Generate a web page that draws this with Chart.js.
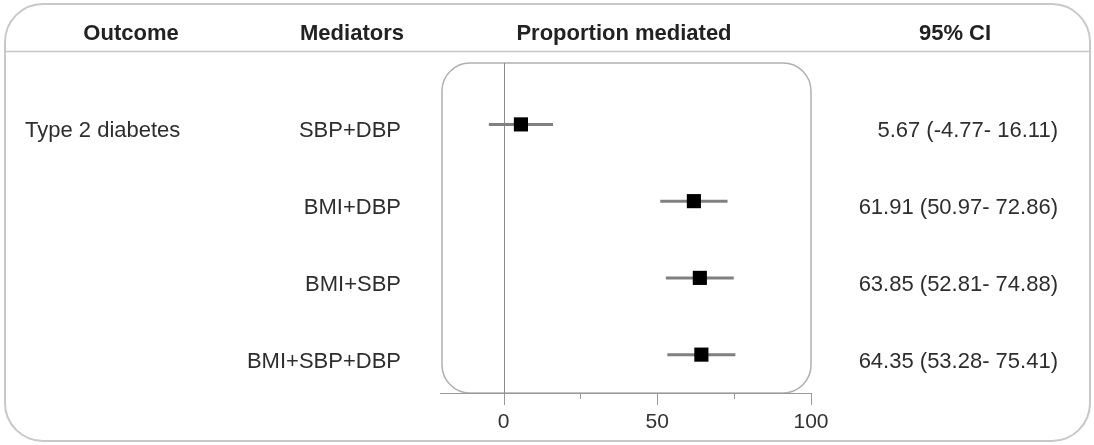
<!DOCTYPE html>
<html>
<head>
<meta charset="utf-8">
<script src="https://cdn.jsdelivr.net/npm/chart.js@4/dist/chart.umd.min.js"></script>
<style>
    html, body { margin: 0; padding: 0; background: #fff; }
    #wrap { width: 1094px; height: 445px; }
</style>
</head>
<body>
<div id="wrap"><canvas id="forestChart"></canvas></div>
<script>
// values
const headers = ['Outcome', 'Mediators', 'Proportion mediated', '95% CI'];
const outcomes = ['Type 2 diabetes', '', '', ''];
const mediators = ['SBP+DBP', 'BMI+DBP', 'BMI+SBP', 'BMI+SBP+DBP'];
const estimate = [5.67, 61.91, 63.85, 64.35];
const lower = [-4.77, 50.97, 52.81, 53.28];
const upper = [16.11, 72.86, 74.88, 75.41];
const majorTicks = [0, 50, 100];
const minorTicks = [25, 75];

const FONT = '"Liberation Sans", Arial, Helvetica, sans-serif';

// CI segments, one per row, split by null gaps
var ciData = [];
mediators.forEach(function (m, i) {
    ciData.push({ x: lower[i], y: i + 1 });
    ciData.push({ x: upper[i], y: i + 1 });
    ciData.push({ x: null, y: null });
});
var pointData = estimate.map(function (v, i) {
    return { x: v, y: i + 1 };
});

function ciLabel(i) {
    return estimate[i].toFixed(2) + ' (' + lower[i].toFixed(2) + '- ' + upper[i].toFixed(2) + ')';
}

const tablePlugin = {
    id: 'tablePlugin',
    beforeDatasetsDraw: function (chart) {
        const ctx = chart.ctx;
        const area = chart.chartArea;
        const xs = chart.scales.x;

        ctx.save();
        // outer frame
        ctx.strokeStyle = '#c8c8c8';
        ctx.lineWidth = 2;
        ctx.beginPath();
        ctx.roundRect(5, 4, 1085, 437, 38);
        ctx.stroke();
        // header rule
        ctx.lineWidth = 1.5;
        ctx.beginPath();
        ctx.moveTo(5, 51.5);
        ctx.lineTo(1090, 51.5);
        ctx.stroke();

        // plot box
        ctx.strokeStyle = '#b0b0b0';
        ctx.lineWidth = 1.5;
        ctx.beginPath();
        ctx.roundRect(area.left, area.top, area.right - area.left, area.bottom - area.top, 28);
        ctx.stroke();

        // zero line
        const x0 = Math.round(xs.getPixelForValue(0)) + 0.5;
        ctx.strokeStyle = '#8a8a8a';
        ctx.lineWidth = 1;
        ctx.beginPath();
        ctx.moveTo(x0, area.top);
        ctx.lineTo(x0, area.bottom);
        ctx.stroke();

        // axis line + ticks
        ctx.strokeStyle = '#9a9a9a';
        ctx.beginPath();
        ctx.moveTo(area.left - 2, area.bottom + 0.5);
        ctx.lineTo(area.right + 1, area.bottom + 0.5);
        majorTicks.forEach(function (t) {
            const px = Math.round(xs.getPixelForValue(t)) + 0.5;
            ctx.moveTo(px, area.bottom);
            ctx.lineTo(px, area.bottom + 12);
        });
        minorTicks.forEach(function (t) {
            const px = Math.round(xs.getPixelForValue(t)) + 0.5;
            ctx.moveTo(px, area.bottom);
            ctx.lineTo(px, area.bottom + 6);
        });
        ctx.stroke();
        ctx.restore();
    },
    afterDraw: function (chart) {
        const ctx = chart.ctx;
        const ys = chart.scales.y;

        ctx.save();
        ctx.textBaseline = 'alphabetic';
        // headers
        ctx.fillStyle = '#222';
        ctx.font = 'bold 22px ' + FONT;
        ctx.textAlign = 'center';
        const headerX = [131, 352, 624, 955];
        headers.forEach(function (h, i) {
            ctx.fillText(h, headerX[i], 40);
        });

        // rows
        ctx.fillStyle = '#2e2e2e';
        ctx.font = '22px ' + FONT;
        mediators.forEach(function (m, i) {
            const py = ys.getPixelForValue(i + 1) + 13;
            ctx.textAlign = 'left';
            ctx.fillText(outcomes[i], 25, py);
            ctx.textAlign = 'right';
            ctx.fillText(m, 401, py);
            ctx.fillText(ciLabel(i), 1058, py);
        });
        ctx.restore();
    }
};

const forestChart = new Chart(document.getElementById('forestChart'), {
    type: 'scatter',
    data: {
        datasets: [{
            label: 'Estimate',
            data: pointData,
            pointStyle: 'rect',
            pointRadius: 10,
            pointHoverRadius: 10,
            backgroundColor: '#000',
            borderColor: '#000',
            borderWidth: 0
        }, {
            label: 'CI',
            data: ciData,
            showLine: true,
            spanGaps: false,
            borderColor: '#808080',
            borderWidth: 3,
            pointRadius: 0,
            pointHoverRadius: 0
        }]
    },
    options: {
        responsive: true,
        maintainAspectRatio: false,
        animation: false,
        layout: {
            padding: { left: 442, right: 283, top: 63, bottom: 0 }
        },
        plugins: {
            legend: { display: false },
            tooltip: { enabled: false }
        },
        scales: {
            x: {
                type: 'linear',
                min: -20,
                max: 100,
                afterBuildTicks: function (scale) {
                    scale.ticks = majorTicks.map(function (v) { return { value: v }; });
                },
                afterFit: function (scale) {
                    scale.height = 52;
                },
                grid: { display: false, drawTicks: false },
                border: { display: false },
                ticks: {
                    padding: 17,
                    color: '#333',
                    font: { family: FONT, size: 21 },
                    maxRotation: 0
                }
            },
            y: {
                type: 'linear',
                reverse: true,
                min: 0.2,
                max: 4.5,
                display: false
            }
        }
    },
    plugins: [tablePlugin]
});
</script>
</body>
</html>
